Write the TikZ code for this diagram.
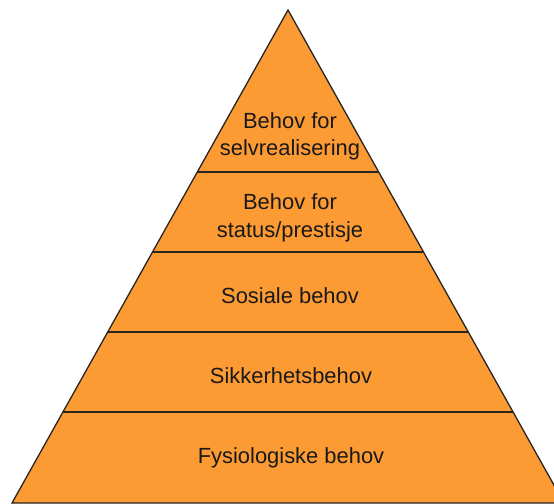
\documentclass[tikz,border=0pt]{standalone}
\usepackage{fontspec}
\setmainfont{Liberation Sans}
\usetikzlibrary{calc}
\definecolor{pyrfill}{RGB}{252,154,52}
\definecolor{pyrline}{RGB}{40,36,32}
\tikzset{
  level/.style={draw=pyrline, line width=1.3bp},
  lbl/.style={anchor=base, inner sep=0pt, text=black!90,
    font=\fontsize{22}{28}\selectfont, align=center}
}
\begin{document}
\begin{tikzpicture}[x=1bp,y=-1bp]
  \useasboundingbox (0,0) rectangle (554,504);
  \clip (0,0) rectangle (554,504);
  % corners of the pyramid
  \coordinate (apex) at (288,10);
  \coordinate (bl) at (12,503);
  \coordinate (br) at (564,503);
  \filldraw[fill=pyrfill, draw=pyrline, line width=1.3bp, line join=miter]
    (apex) -- (bl) -- (br) -- cycle;
  % dividing lines between the levels
  \foreach \t [count=\i] in {0.3286,0.4909,0.6531,0.8154} {
    \coordinate (l\i) at ($(apex)!\t!(bl)$);
    \coordinate (r\i) at ($(apex)!\t!(br)$);
    \draw[level] (l\i) -- (r\i);
  }
  % level labels (base anchor sits on the last line)
  \node[lbl] (self) at (290,156) {Behov for\\selvrealisering};
  \node[lbl] (status) at (290,237) {Behov for\\status/prestisje};
  \node[lbl] (social) at (290,303) {Sosiale behov};
  \node[lbl] (safety) at (291,383) {Sikkerhetsbehov};
  \node[lbl] (phys) at (291,463) {Fysiologiske behov};
\end{tikzpicture}
\end{document}
